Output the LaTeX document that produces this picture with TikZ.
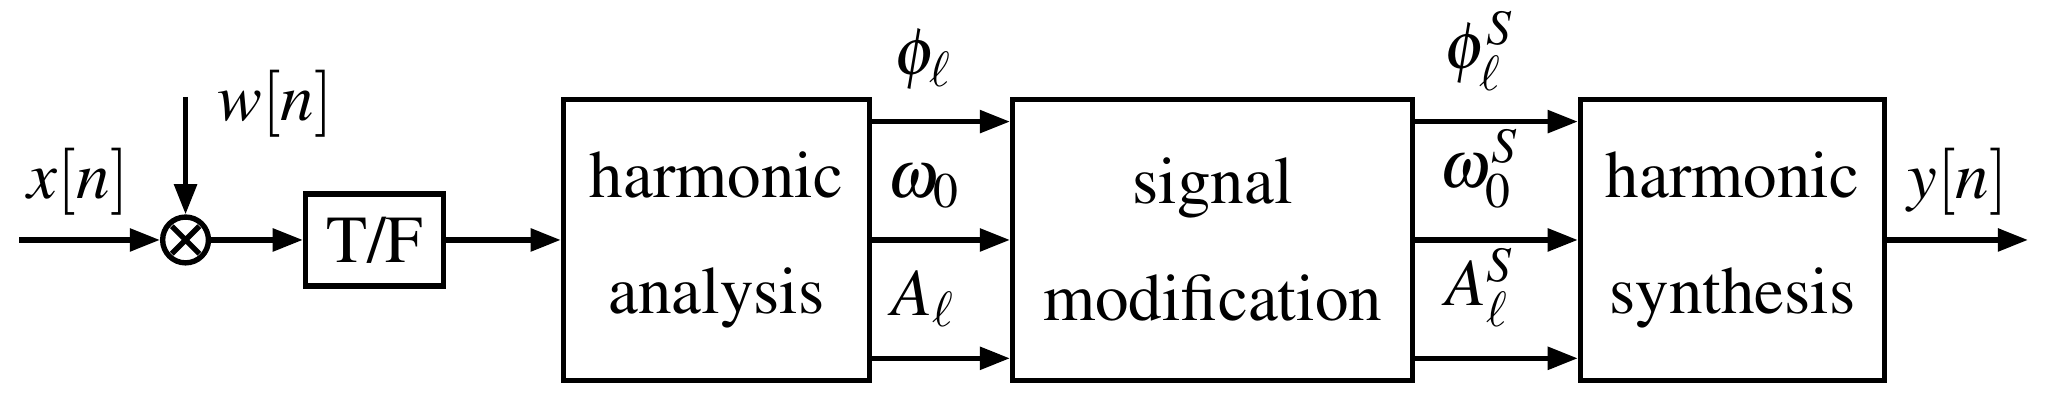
\documentclass[tikz,border=0pt]{standalone}
\usepackage[T1]{fontenc}
\usepackage{mathptmx}
\usetikzlibrary{arrows.meta, calc, positioning}

\begin{document}
\begin{tikzpicture}[line width=0.8pt,
        blk/.style={draw, align=center, inner sep=0pt, font=\linespread{1.45}\selectfont},
        sig/.style={-{Triangle[length=4.5pt, width=3.3pt]}},
        lbl/.style={above=4.3pt, inner sep=0pt, xshift=-2.5pt}]
        \useasboundingbox (0,0) rectangle (10.754,2.116);
        \coordinate (in) at (0.10,0.859);
        \coordinate (wtop) at (0.972,1.608);
        \coordinate (out) at (10.623,0.859);

        \node[draw, circle, minimum size=0.24cm, inner sep=0pt] (mix) at (0.972,0.859) {};
        \draw (mix.center) ++(-0.072,-0.072) -- ++(0.144,0.144)
              (mix.center) ++(-0.072,0.072) -- ++(0.144,-0.144);

        \node[blk, minimum width=0.723cm, minimum height=0.482cm] (tf) at (1.962,0.859) {T/F};
        \node[blk, minimum width=1.603cm, minimum height=1.472cm] (ha) at (3.753,0.859) {harmonic\\analysis};
        \node[blk, minimum width=2.095cm, minimum height=1.472cm] (sm) at (6.352,0.859) {signal\\modification};
        \node[blk, minimum width=1.592cm, minimum height=1.472cm] (hs) at (9.075,0.859) {harmonic\\synthesis};

        \draw[sig] (in) -- node[above, pos=0.42] {$x[n]$} (mix);
        \draw[sig] (wtop) node[right=1pt, yshift=-1pt] {$w[n]$} -- (mix);
        \draw[sig] (mix) -- (tf);
        \draw[sig] (tf) -- (ha);
        \foreach \dy/\lab in {0.62/\phi_\ell, 0/\omega_0, -0.62/A_\ell}
            \draw[sig] ([yshift=\dy cm]ha.east) -- node[lbl] {$\lab$} ([yshift=\dy cm]sm.west);
        \foreach \dy/\lab in {0.62/\phi_\ell^S, 0/\omega_0^S, -0.62/A_\ell^S}
            \draw[sig] ([yshift=\dy cm]sm.east) -- node[lbl] {$\lab$} ([yshift=\dy cm]hs.west);
        \draw[sig] (hs) -- node[above] {$y[n]$} (out);
    \end{tikzpicture}
\end{document}
